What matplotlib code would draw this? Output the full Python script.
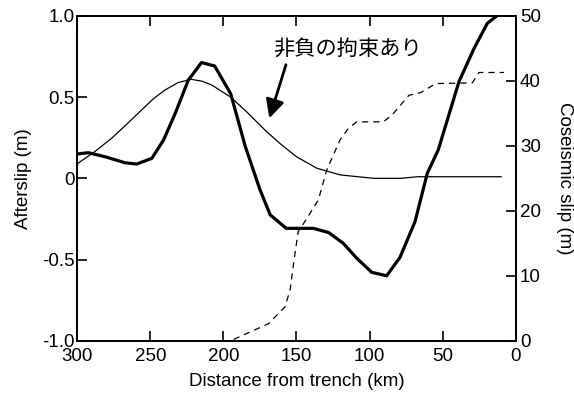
import numpy as np
import matplotlib
matplotlib.use("Agg")
import matplotlib.pyplot as plt

plt.rcParams['font.family'] = ['Liberation Sans', 'Noto Sans CJK JP', 'DejaVu Sans']
plt.rcParams['axes.unicode_minus'] = False

# afterslip, thick line (m)
thick_dist = [300, 292.5, 281, 267.4, 259.4, 249, 241, 233, 224, 215, 206, 195, 185, 175, 168, 157,
              138.5, 128, 118, 109, 98.5, 88.3, 79.2, 68.9, 60.5, 53, 38.8, 28.5, 19.4, 13]
thick_slip = [0.15, 0.158, 0.133, 0.096, 0.088, 0.123, 0.236, 0.40, 0.606, 0.713, 0.692, 0.52, 0.195,
              -0.07, -0.225, -0.308, -0.308, -0.334, -0.40, -0.49, -0.579, -0.60, -0.487, -0.267,
              0.031, 0.175, 0.596, 0.80, 0.955, 1.0]

# afterslip with non-negative constraint, thin line (m)
thin_dist = [300, 288, 276.5, 266, 256, 248, 240, 231, 222, 214.5, 208, 195, 183, 170.4, 160, 150,
             136, 120, 97, 79, 67, 10]
thin_slip = [0.09, 0.165, 0.247, 0.335, 0.421, 0.49, 0.544, 0.59, 0.61, 0.598, 0.575, 0.50, 0.40,
             0.287, 0.205, 0.133, 0.062, 0.021, 0.0, 0.0, 0.01, 0.01]

# coseismic slip, dashed line (m)
co_dist = [193, 169.3, 157.9, 154.4, 151, 148.8, 143, 135, 129.3, 120.2, 114.5, 108.8, 90.6, 84.4,
           73, 65, 54.7, 29.7, 25.1, 8]
co_slip = [0.2, 2.6, 5.2, 7.8, 13.5, 16.8, 18.8, 21.7, 26.3, 30.9, 32.7, 33.7, 33.7, 34.8,
           37.8, 38.2, 39.6, 39.7, 41.3, 41.3]

x_ticks = [300, 250, 200, 150, 100, 50, 0]
left_ticks = [-1.0, -0.5, 0, 0.5, 1.0]
left_labels = ['-1.0', '-0.5', '0', '0.5', '1.0']
right_ticks = [0, 10, 20, 30, 40, 50]

fig = plt.figure(figsize=(5.74, 3.95), dpi=100)
ax = fig.add_axes([0.1347, 0.1375, 0.7637, 0.822])
ax2 = ax.twinx()

ax.plot(thick_dist, thick_slip, color='black', linewidth=2.3)
ax.plot(thin_dist, thin_slip, color='black', linewidth=0.9)
ax2.plot(co_dist, co_slip, color='black', linewidth=0.9, linestyle=(0, (5, 4)))

ax.set_xlim(300, 0)
ax.set_ylim(-1.0, 1.0)
ax2.set_ylim(0, 50)

ax.set_xticks(x_ticks)
ax.set_xticklabels([str(t) for t in x_ticks])
ax.set_yticks(left_ticks)
ax.set_yticklabels(left_labels)
ax2.set_yticks(right_ticks)

ax.tick_params(axis='both', direction='in', length=7, width=1.2, labelsize=13.5, pad=2,
               top=True, right=False)
ax.tick_params(axis='x', pad=5)
ax2.tick_params(axis='y', direction='in', length=7, width=1.2, labelsize=13.5, pad=3)

for a in (ax, ax2):
    for s in a.spines.values():
        s.set_linewidth(1.3)

ax.set_xlabel('Distance from trench (km)', fontsize=13.5, labelpad=6)
ax.set_ylabel('Afterslip (m)', fontsize=13.5, labelpad=7)
ax2.set_ylabel('Coseismic slip (m)', fontsize=13.5, rotation=-90, labelpad=23)

ax.text(166, 0.80, '非負の拘束あり', fontsize=15.3, family=['Noto Sans CJK JP'],
        ha='left', va='center')
ax.annotate('', xy=(168.6, 0.37), xytext=(157.2, 0.70),
            arrowprops=dict(arrowstyle='-|>', color='black', lw=2, mutation_scale=28,
                            shrinkA=0, shrinkB=0))

fig.savefig('out.png', dpi=100)
